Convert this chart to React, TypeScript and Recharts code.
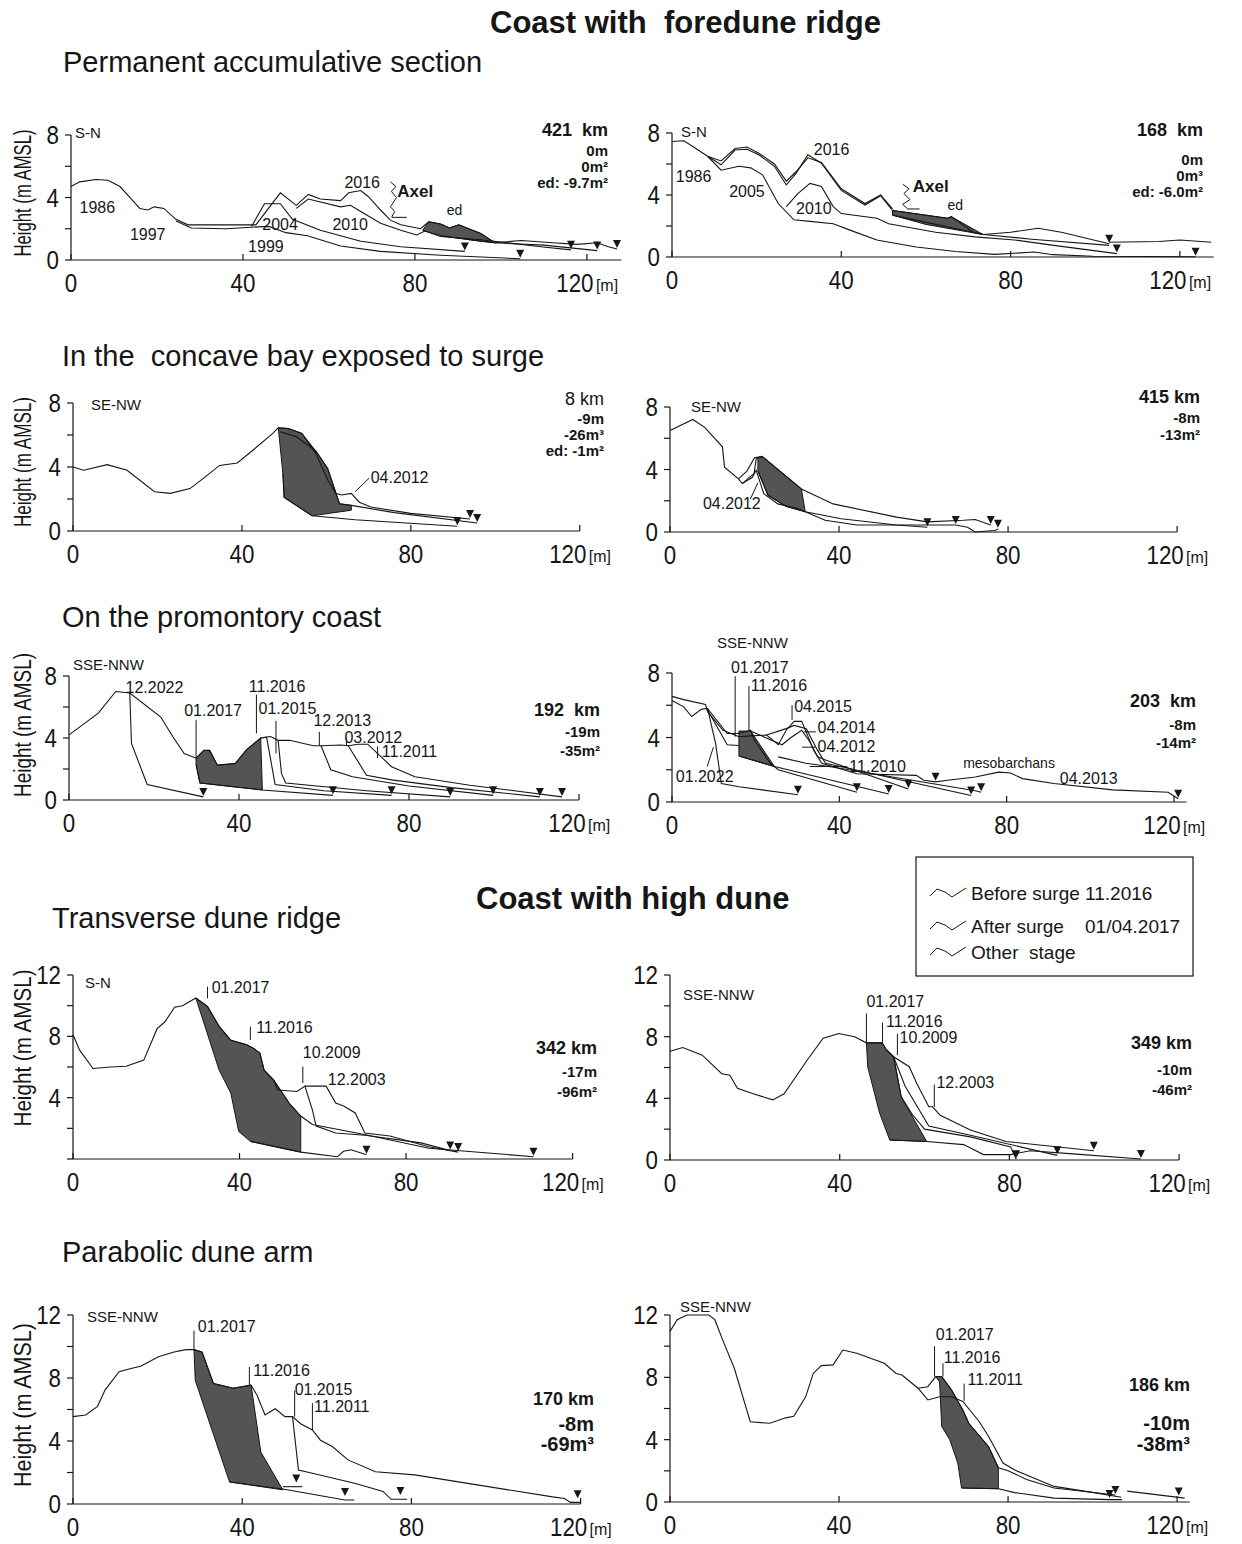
import React from "react";
import { ComposedChart, Scatter, XAxis, YAxis } from "recharts";

type Pt = [number, number];
type Tag = { x: number; y: number; text: string };

// ---------- Coast with foredune ridge: permanent accumulative section ----------
const p1Profiles: Pt[][] = [
  [[0, 4.7], [2, 5.0], [5.8, 5.15], [8.6, 5.1], [11.4, 4.7], [14.2, 3.85], [16, 3.3], [17.9, 3.2], [19.3, 3.4], [21.6, 3.3], [24.4, 2.6], [27.2, 2.25], [35.6, 2.25], [43, 2.25], [48.7, 4.3], [52.4, 3.5], [55.2, 4.2], [58, 3.9], [62.7, 3.8], [64.6, 4.3], [67.4, 4.45], [69.2, 4.05], [72, 3.2], [74.3, 2.55], [76.7, 2.25], [81.3, 2.0], [83.2, 2.45], [86, 2.3], [88, 2.05], [90.2, 2.25], [95.3, 1.7], [98.6, 1.1], [104.7, 1.25], [112, 1.1], [117.7, 1.0], [122.4, 1.1], [125, 0.85], [127, 0.7]],
  [[42, 2.15], [45, 3.6], [48.7, 3.6], [51.5, 2.6], [58, 1.9], [67.4, 1.2], [76.7, 0.85], [91.6, 0.55]],
  [[24.4, 2.5], [28, 2.05], [36, 2.0], [42, 2.1], [46, 2.15], [50, 1.75], [55, 1.55], [62.7, 0.9], [72, 0.55], [86, 0.3], [104.5, 0.08]],
  [[52.4, 3.3], [55.2, 3.9], [62.7, 3.4], [65, 3.5], [67.4, 3.1], [72, 2.35], [76.7, 1.9], [80.4, 1.6], [82.3, 1.85], [86, 1.5], [95.3, 1.3], [109.3, 0.85], [116.3, 0.65]],
  [[86, 1.55], [95.3, 1.2], [98.6, 1.1], [110, 0.95], [122.4, 0.6]],
];
const p1Shade: Pt[] = [[81.8, 1.9], [83.2, 2.45], [86, 2.3], [88, 2.05], [90.2, 2.25], [95.3, 1.7], [98.6, 1.1], [95.3, 1.2], [86, 1.55]];
const p1Ends: Pt[] = [[91.6, 0.55], [104.5, 0.08], [116.3, 0.65], [122.4, 0.6], [127, 0.7]];
const p1Leaders: Pt[][] = [
  [[74.3, 5.0], [75.6, 4.7], [74.5, 4.4], [75.7, 4.0], [74.3, 3.4], [75.3, 3.1], [74.6, 2.75]],
  [[74.6, 2.73], [78.1, 2.73]],
];
const p1Tags: Tag[] = [
  { x: 2, y: 3.0, text: "1986" }, { x: 13.7, y: 1.28, text: "1997" }, { x: 41.2, y: 0.53, text: "1999" },
  { x: 44.5, y: 1.92, text: "2004" }, { x: 60.8, y: 1.92, text: "2010" }, { x: 63.6, y: 4.58, text: "2016" },
  { x: 75.9, y: 4.05, text: "Axel" }, { x: 87.4, y: 2.88, text: "ed" },
];

const p2Profiles: Pt[][] = [
  [[0, 7.45], [2.8, 7.5], [5.1, 7.1], [8.4, 6.5], [11.6, 5.95], [14.9, 6.9], [17.7, 6.95], [20.5, 6.6], [24.2, 5.85], [27, 4.65], [29.3, 5.4], [32.1, 6.6], [35.3, 6.05], [40, 4.3], [45.6, 3.35], [49.3, 3.95], [52.1, 3.0], [65.1, 2.5], [66, 2.6], [71.2, 1.6], [73.5, 1.45], [80, 1.6], [86.5, 1.85], [92, 1.6], [103.3, 0.85]],
  [[8.4, 6.5], [11.6, 6.2], [14.9, 7.0], [17.7, 7.1], [20.5, 6.7], [24.2, 6.0], [27, 4.9], [29.3, 5.5], [32.1, 6.4], [35.3, 6.1], [40, 4.4], [45.6, 3.45], [49.3, 4.0], [52.1, 3.1]],
  [[103.3, 0.95], [115, 1.0], [120, 1.1], [127.4, 0.95]],
  [[52.1, 2.7], [73.5, 1.45], [85, 1.15], [103.3, 0.75]],
  [[27, 3.25], [29.8, 4.1], [32.6, 4.75], [35.3, 4.55], [38.1, 3.25], [40, 2.8], [48.4, 2.5], [51.2, 2.15], [62.3, 1.6], [71.6, 1.3], [80.9, 1.1], [90.2, 0.75], [105.1, 0.22]],
  [[8.4, 6.5], [11.6, 5.6], [15.8, 5.85], [18.6, 5.75], [21.4, 5.3], [25.1, 3.45], [28.8, 2.4], [32.6, 2.3], [38.1, 2.15], [41.9, 1.75], [48.4, 1.1], [57.7, 0.65], [67, 0.35], [76.3, 0.17], [85.6, 0.32], [90, 0.15], [99.5, 0.05], [123.7, 0.02]],
];
const p2Shade: Pt[] = [[52.1, 3.0], [65.1, 2.5], [66, 2.6], [73.5, 1.45], [60, 2.1], [52.1, 2.7]];
const p2Ends: Pt[] = [[103.3, 0.85], [105.1, 0.22], [123.7, 0.02]];
const p2Leaders: Pt[][] = [
  [[54.5, 4.7], [56, 4.4], [54.8, 4.1], [56.2, 3.7], [54.5, 3.4], [55.5, 3.15]],
  [[55.5, 3.1], [58.5, 3.1]],
];
const p2Tags: Tag[] = [
  { x: 0.9, y: 4.85, text: "1986" }, { x: 13.5, y: 3.9, text: "2005" }, { x: 29.3, y: 2.8, text: "2010" },
  { x: 33.5, y: 6.6, text: "2016" }, { x: 56.9, y: 4.2, text: "Axel" }, { x: 65.1, y: 3.0, text: "ed" },
];

// ---------- concave bay exposed to surge ----------
const p3Profiles: Pt[][] = [
  [[0, 4.0], [2.5, 3.8], [8.1, 4.15], [12.8, 3.8], [19.3, 2.45], [23, 2.35], [27.7, 2.65], [31.4, 3.4], [34.7, 4.1], [38.9, 4.25], [42.6, 5.05], [47.3, 6.1], [48.6, 6.45], [51, 6.4], [54.2, 6.1], [57.5, 4.85], [60.3, 3.2], [62.2, 2.35], [63.6, 2.25], [65.9, 2.35], [67.8, 1.8], [70.5, 1.5], [80, 1.1], [94, 0.75]],
  [[49.1, 6.2], [52.8, 5.9], [57.5, 5.0], [60.3, 3.9], [63.1, 1.7], [65.9, 1.6], [76.1, 1.15], [95.7, 0.5]],
  [[49.7, 3.6], [50, 2.1], [56.6, 0.95], [66.8, 0.7], [76.1, 0.55], [91, 0.3]],
];
const p3Shade: Pt[] = [[48.6, 6.45], [51, 6.4], [54.2, 6.1], [57.5, 5.0], [60.3, 3.9], [63.1, 1.7], [65.9, 1.6], [65.9, 1.3], [56.6, 0.95], [50, 2.1], [49.7, 3.6]];
const p3Ends: Pt[] = [[94, 0.75], [95.7, 0.5], [91, 0.3]];
const p3Leaders: Pt[][] = [[[66.8, 2.45], [70.1, 3.3]]];
const p3Tags: Tag[] = [{ x: 70.5, y: 2.97, text: "04.2012" }];

const p4Profiles: Pt[][] = [
  [[0, 6.5], [5.4, 7.2], [8.2, 6.7], [12.4, 5.45], [12.9, 4.15], [16.2, 3.4], [17.1, 3.1], [19.9, 3.75], [20.4, 4.7], [21.3, 4.8], [22, 4.8], [31.1, 2.75], [38.6, 1.8], [53.6, 0.95], [60.9, 0.65], [69.4, 0.75], [72.2, 0.8], [75.9, 0.45]],
  [[16.2, 3.4], [18.2, 3.9], [20, 4.75], [22, 4.85]],
  [[20.8, 3.9], [23.2, 2.35], [27.4, 1.65], [32, 1.3], [40.5, 0.85], [53.6, 0.45], [60.9, 0.3]],
  [[17.1, 3.1], [19.5, 3.5], [20.4, 3.95], [22.2, 2.45], [25.5, 1.8], [30.2, 1.5], [36.7, 0.75], [44.2, 0.45], [55, 0.45], [67.6, 0.45], [70.4, 0.3], [72.2, 0], [76.9, 0.1], [77.7, 0.2]],
];
const p4Shade: Pt[] = [[20.8, 4.75], [22, 4.8], [31.1, 2.75], [32, 1.3], [27.4, 1.65], [23.2, 2.35], [20.8, 3.9]];
const p4Ends: Pt[] = [[75.9, 0.45], [60.9, 0.3], [67.6, 0.45], [77.6, 0.2]];
const p4Leaders: Pt[][] = [[[19, 2.1], [20.8, 3.15]]];
const p4Tags: Tag[] = [{ x: 7.8, y: 1.5, text: "04.2012" }];

// ---------- promontory coast ----------
const p5Profiles: Pt[][] = [
  [[0, 4.2], [3.2, 4.85], [6.9, 5.6], [11, 7.0], [14.3, 6.9], [21.6, 5.35], [24.4, 4.1], [27.1, 3.0], [29.9, 2.7], [31.7, 3.2], [33.1, 3.2], [34.9, 2.25], [39.1, 2.35], [41.8, 3.25], [45.1, 4.0], [47.4, 4.1], [49.2, 3.85], [51.9, 3.85], [57.5, 3.5], [59.3, 3.5], [63.9, 3.55], [65.7, 3.5], [68, 3.6], [70.3, 3.6], [73, 2.9], [75.9, 2.15], [81.4, 1.5], [94.3, 0.95], [103.4, 0.65], [116, 0.2]],
  [[14.3, 6.9], [14.7, 3.65], [18.4, 1.0], [31.6, 0.2]],
  [[29.9, 2.3], [30.8, 1.1], [45.5, 0.65], [62.1, 0.3]],
  [[45.1, 4.0], [46.5, 4.05], [48.5, 1.0], [60, 0.6], [75.9, 0.3]],
  [[49.2, 3.85], [50, 1.7], [51, 1.1], [70, 0.6], [89.7, 0.2]],
  [[59.3, 3.5], [61.6, 1.95], [66.7, 1.5], [80, 0.9], [99.8, 0.3]],
  [[65.7, 3.5], [70, 1.6], [75.9, 1.3], [90, 0.8], [110.8, 0.2]],
];
const p5Shade: Pt[] = [[29.9, 2.7], [31.7, 3.2], [33.1, 3.2], [34.9, 2.25], [39.1, 2.35], [41.8, 3.25], [45.1, 4.0], [45.5, 0.65], [30.8, 1.1], [29.9, 2.3]];
const p5Ends: Pt[] = [[116, 0.2], [31.6, 0.2], [62.1, 0.3], [75.9, 0.3], [89.7, 0.2], [99.8, 0.3], [110.8, 0.2]];
const p5Leaders: Pt[][] = [
  [[29.9, 2.7], [29.9, 5.15]], [[44.1, 4.3], [44.1, 6.8]], [[48.7, 3.0], [48.7, 5.1]],
  [[58.9, 3.5], [58.9, 4.4]], [[65.3, 3.5], [65.3, 4.0]], [[72.6, 3.45], [72.6, 2.7]],
];
const p5Tags: Tag[] = [
  { x: 13.3, y: 6.9, text: "12.2022" }, { x: 27.1, y: 5.4, text: "01.2017" }, { x: 42.3, y: 6.95, text: "11.2016" },
  { x: 44.6, y: 5.55, text: "01.2015" }, { x: 57.5, y: 4.8, text: "12.2013" }, { x: 64.8, y: 3.65, text: "03.2012" },
  { x: 73.6, y: 2.75, text: "11.2011" },
];

const p6Profiles: Pt[][] = [
  [[0, 6.55], [2.8, 6.35], [8, 6.05], [8.5, 5.6], [12.2, 4.45], [16, 4.05], [18.8, 4.1], [22.6, 4.15], [25.4, 3.55], [27.3, 4.45], [29.2, 5.0], [31, 5.0], [33.9, 3.2], [35.8, 2.4], [44.2, 1.75], [58.4, 1.65], [60.2, 1.35], [63, 1.25], [65.9, 1.35], [72.5, 1.55], [78.1, 1.85], [80.9, 1.8], [83.8, 1.45], [91.3, 1.15], [105.4, 0.75], [118.6, 0.6], [121, 0.2]],
  [[0, 6.3], [2.8, 5.9], [4.7, 5.3], [7, 5.75], [8.5, 5.8], [10.4, 3.65], [11.8, 1.15], [16, 0.95], [30.1, 0.45]],
  [[8.5, 5.8], [13.2, 4.25], [16, 4.25], [18.8, 4.45], [19.8, 3.8], [23.5, 2.4], [25.4, 2.0], [44.2, 0.6]],
  [[8.5, 5.7], [13.2, 3.55], [16, 3.5]],
  [[16, 2.85], [24.5, 2.2], [51.8, 0.5]],
  [[18.8, 4.4], [24.5, 3.75], [26.3, 3.55], [28.2, 3.95], [31, 4.45], [32.9, 3.75], [34.8, 2.8], [36.7, 2.6], [56.5, 0.8]],
  [[22.6, 4.15], [27.3, 4.55], [29.2, 4.75], [32.1, 4.55], [34.8, 3.2], [36.7, 2.4], [71.5, 0.4]],
  [[25.4, 2.8], [32, 2.4], [37.6, 2.2], [72.5, 0.7], [73.9, 0.6]],
];
const p6Shade: Pt[] = [[16, 4.4], [18.8, 4.4], [24.5, 2.2], [16, 2.85]];
const p6Ends: Pt[] = [[121, 0.2], [63, 1.25], [30.1, 0.45], [44.2, 0.6], [51.8, 0.5], [56.5, 0.8], [71.5, 0.4], [73.9, 0.6]];
const p6Leaders: Pt[][] = [
  [[15.1, 7.8], [15.1, 4.05]], [[18.4, 7.2], [18.4, 4.4]], [[28.7, 5.1], [28.7, 6.0]],
  [[31.5, 4.35], [34.4, 4.35]], [[31.1, 3.4], [34.4, 3.4]], [[32.9, 2.2], [41.9, 2.2]], [[9.9, 3.4], [8.4, 2.2]],
];
const p6Tags: Tag[] = [
  { x: 14.1, y: 8.0, text: "01.2017" }, { x: 18.8, y: 6.9, text: "11.2016" }, { x: 29.2, y: 5.6, text: "04.2015" },
  { x: 34.8, y: 4.26, text: "04.2014" }, { x: 34.8, y: 3.12, text: "04.2012" }, { x: 42.4, y: 1.87, text: "11.2010" },
  { x: 0.9, y: 1.25, text: "01.2022" }, { x: 69.6, y: 2.08, text: "mesobarchans" }, { x: 92.7, y: 1.14, text: "04.2013" },
];

// ---------- Coast with high dune: transverse dune ridge ----------
const p7Profiles: Pt[][] = [
  [[0, 8.1], [1.6, 7.1], [4.8, 5.9], [9, 6.0], [12.8, 6.05], [17, 6.45], [20.2, 8.5], [22.1, 8.95], [24.4, 9.9], [26.3, 10.0], [29.5, 10.5], [32.3, 9.95], [35.1, 8.65], [37.9, 7.75], [41.7, 7.45], [43.5, 7.2], [44.9, 6.9], [45.9, 5.8], [48.2, 5.15], [49.1, 4.5], [53.8, 4.4], [55.7, 4.75], [57.5, 3.2], [58.4, 2.15], [63.1, 1.7], [70.1, 1.55], [83.6, 1.05], [90.6, 0.55]],
  [[55.7, 4.75], [60.8, 4.75], [63.1, 3.65], [65, 3.45], [67.8, 3.0], [70.1, 1.7], [76.1, 1.5], [85.5, 0.8], [92.5, 0.45]],
  [[45.9, 5.8], [48.2, 5.15], [51.9, 3.65], [54.7, 2.8], [57.5, 2.25], [70, 1.6], [85.5, 0.7], [110.6, 0.15]],
  [[42.6, 1.15], [54.7, 0.45], [63.5, 0.15], [65, 0.5], [66.8, 0.6], [70.5, 0.28]],
];
const p7Shade: Pt[] = [[29.5, 10.5], [32.3, 9.95], [35.1, 8.65], [37.9, 7.75], [41.7, 7.45], [43.5, 7.2], [44.9, 6.9], [45.9, 5.8], [48.2, 5.15], [51.9, 3.65], [54.7, 2.8], [54.7, 0.45], [42.6, 1.15], [39.8, 1.8], [37.9, 4.3], [35.1, 5.8]];
const p7Ends: Pt[] = [[90.6, 0.55], [92.5, 0.45], [110.6, 0.15], [70.5, 0.28]];
const p7Leaders: Pt[][] = [[[32.3, 10.48], [32.3, 11.24]], [[42.6, 7.77], [42.6, 8.63]], [[55.2, 4.95], [55.2, 6.03]]];
const p7Tags: Tag[] = [
  { x: 33.3, y: 10.8, text: "01.2017" }, { x: 44, y: 8.2, text: "11.2016" },
  { x: 55.2, y: 6.57, text: "10.2009" }, { x: 61.2, y: 4.84, text: "12.2003" },
];

const p8Profiles: Pt[][] = [
  [[0, 7.05], [3, 7.3], [7.6, 6.8], [12.2, 5.6], [14.1, 5.5], [15.9, 4.65], [19.6, 4.3], [24.2, 3.9], [26.9, 4.3], [32.4, 6.5], [36.1, 7.9], [39.8, 8.2], [43.5, 8.0], [46.3, 7.6], [50, 7.6], [51, 7.15], [52.7, 6.7], [56.4, 6.05], [58.2, 4.95], [61, 3.45], [61.9, 3.45], [63.7, 2.9], [70.8, 1.95], [79.2, 1.2], [99.9, 0.6]],
  [[51, 7.15], [52.7, 6.7], [54.5, 4.1], [57, 3.0], [60, 2.0], [70.8, 1.5], [80.3, 0.85], [81.6, 0.05]],
  [[52.7, 6.7], [55.4, 4.8], [58.2, 3.5], [61, 2.2], [70.8, 1.6], [91.3, 0.3]],
  [[51.8, 1.3], [60.5, 1.2], [69.2, 1.0], [73.9, 0.35], [80.3, 0.35], [84.9, 0.6], [95, 0.4], [111, 0.06]],
];
const p8Shade: Pt[] = [[46.3, 7.6], [50, 7.6], [51, 7.15], [52.7, 6.7], [54.5, 4.1], [60.5, 1.2], [51.8, 1.3], [49.4, 3.05], [46.6, 6.05]];
const p8Ends: Pt[] = [[99.9, 0.6], [81.6, 0.05], [91.3, 0.3], [111, 0.06]];
const p8Leaders: Pt[][] = [[[46.3, 7.6], [46.3, 9.5]], [[50.1, 7.6], [50.1, 8.9]], [[53.6, 6.8], [53.6, 8.2]], [[62.3, 3.45], [62.3, 4.9]]];
const p8Tags: Tag[] = [
  { x: 46.3, y: 9.95, text: "01.2017" }, { x: 50.9, y: 8.65, text: "11.2016" },
  { x: 54.1, y: 7.57, text: "10.2009" }, { x: 62.8, y: 4.65, text: "12.2003" },
];

// ---------- parabolic dune arm ----------
const p9Profiles: Pt[][] = [
  [[0, 5.55], [3, 5.65], [5.8, 6.2], [7.6, 7.25], [10.9, 8.4], [13.7, 8.6], [16, 8.75], [20.2, 9.35], [23.9, 9.65], [26.7, 9.8], [28.6, 9.8], [30.5, 9.65], [33.2, 7.65], [37.9, 7.35], [42.1, 7.55], [43.5, 6.9], [45.4, 5.65], [47.8, 6.05], [50.1, 5.55], [51.9, 5.55], [53.8, 5.1], [56.6, 4.7], [58.5, 4.05], [61.3, 3.65], [65, 2.8], [71.5, 2.05], [80.8, 1.85], [113.4, 0.45], [116.2, 0.35], [117.6, 0.1], [120, 0.1]],
  [[37, 1.4], [49.6, 0.95], [64.3, 0.25], [66.5, 0.25]],
  [[49.6, 1.1], [54.2, 1.1]],
  [[51.9, 5.55], [53.3, 2.15], [56.6, 1.95], [66.8, 1.3], [73.3, 0.8], [75.2, 0.3], [79, 0.3]],
];
const p9Shade: Pt[] = [[28.6, 9.8], [30.5, 9.65], [33.2, 7.65], [37.9, 7.35], [42.1, 7.55], [44.4, 3.3], [49.6, 0.9], [37, 1.4], [28.9, 7.85]];
const p9Ends: Pt[] = [[52.8, 1.3], [64.3, 0.45], [77.4, 0.5], [119.3, 0.3]];
const p9Leaders: Pt[][] = [[[28.6, 9.8], [28.6, 11.0]], [[41.7, 7.55], [41.7, 8.7]], [[52.4, 5.55], [52.4, 7.2]], [[56.6, 4.7], [56.6, 6.4]]];
const p9Tags: Tag[] = [
  { x: 29.5, y: 10.9, text: "01.2017" }, { x: 42.6, y: 8.1, text: "11.2016" },
  { x: 52.4, y: 6.9, text: "01.2015" }, { x: 57, y: 5.85, text: "11.2011" },
];

const p10Profiles: Pt[][] = [
  [[0, 10.95], [1.7, 11.7], [4, 12.0], [9.2, 12.0], [10.6, 11.7], [12.9, 10.1], [15.2, 8.6], [19, 5.15], [23.6, 5.05], [27.4, 5.4], [29.3, 5.5], [32.1, 6.75], [33.9, 8.25], [35.8, 8.75], [38.6, 8.8], [40.9, 9.75], [44.2, 9.55], [50.7, 8.9], [53.5, 8.25], [54.9, 8.15], [58.7, 7.3], [61, 6.55], [63.8, 6.75], [66.6, 6.75], [69.3, 6.45], [73.2, 5.15], [75.4, 4.2], [78.8, 2.5], [81.6, 2.05], [90.9, 1.0], [100.3, 0.6], [106.8, 0.3]],
  [[58.7, 7.3], [61, 7.4], [62.9, 8.05], [64.3, 8.05], [66.6, 7.2], [69.3, 5.9], [70.7, 5.05], [75.4, 3.55], [77.7, 2.2], [80, 2.0], [84.4, 1.45], [90.9, 0.9], [105.4, 0.45]],
  [[69, 0.9], [77.7, 0.85], [81.6, 0.6], [90.9, 0.25], [104, 0.15], [107, 0.15]],
  [[108.2, 0.7], [121.8, 0.25]],
];
const p10Shade: Pt[] = [[62.9, 8.05], [64.3, 8.05], [66.6, 7.2], [69.3, 5.9], [70.7, 5.05], [75.4, 3.55], [77.7, 2.2], [77.7, 0.85], [69, 0.9], [68.1, 2.5], [66.2, 4.0], [64.3, 4.85], [63.8, 7.7]];
const p10Ends: Pt[] = [[105.4, 0.45], [104, 0.2], [120.4, 0.35]];
const p10Leaders: Pt[][] = [[[62.6, 8.05], [62.6, 10.0]], [[64.6, 8.05], [64.6, 8.9]], [[69.6, 6.5], [69.6, 7.6]]];
const p10Tags: Tag[] = [
  { x: 62.9, y: 10.4, text: "01.2017" }, { x: 64.8, y: 8.9, text: "11.2016" }, { x: 70.4, y: 7.5, text: "11.2011" },
];

// page texts
const mainTitles = [
  { text: "Coast with  foredune ridge", x: 490, y: 33 },
  { text: "Coast with high dune", x: 476, y: 909 },
];
const subTitles = [
  { text: "Permanent accumulative section", x: 63, y: 72 },
  { text: "In the  concave bay exposed to surge", x: 62, y: 366 },
  { text: "On the promontory coast", x: 62, y: 627 },
  { text: "Transverse dune ridge", x: 52, y: 928 },
  { text: "Parabolic dune arm", x: 62, y: 1262 },
];
const yTitles = [
  { cy: 193, len: 127 }, { cy: 462, len: 130 }, { cy: 725, len: 144 }, { cy: 1048, len: 157 }, { cy: 1405, len: 164 },
];
const directions = [
  { text: "S-N", x: 75, y: 138 }, { text: "S-N", x: 681, y: 137 }, { text: "SE-NW", x: 91, y: 410 },
  { text: "SE-NW", x: 691, y: 412 }, { text: "SSE-NNW", x: 73, y: 670 }, { text: "SSE-NNW", x: 717, y: 648 },
  { text: "S-N", x: 85, y: 988 }, { text: "SSE-NNW", x: 683, y: 1000 }, { text: "SSE-NNW", x: 87, y: 1322 },
  { text: "SSE-NNW", x: 680, y: 1312 },
];
const stats = [
  { x: 608, lines: [["421  km", 131, 18], ["0m", 151, 15], ["0m²", 167, 15], ["ed: -9.7m²", 183, 15]] },
  { x: 1203, lines: [["168  km", 131, 18], ["0m", 160, 15], ["0m³", 176, 15], ["ed: -6.0m²", 192, 15]] },
  { x: 604, lines: [["8 km", 400, 18], ["-9m", 419, 15], ["-26m³", 435, 15], ["ed: -1m²", 451, 15]] },
  { x: 1200, lines: [["415 km", 398, 18], ["-8m", 418, 15], ["-13m²", 435, 15]] },
  { x: 600, lines: [["192  km", 711, 18], ["-19m", 732, 15], ["-35m²", 751, 15]] },
  { x: 1196, lines: [["203  km", 702, 18], ["-8m", 725, 15], ["-14m²", 743, 15]] },
  { x: 597, lines: [["342 km", 1049, 18], ["-17m", 1072, 15], ["-96m²", 1092, 15]] },
  { x: 1192, lines: [["349 km", 1044, 18], ["-10m", 1070, 15], ["-46m²", 1090, 15]] },
  { x: 594, lines: [["170 km", 1400, 18], ["-8m", 1426, 20], ["-69m³", 1446, 20]] },
  { x: 1190, lines: [["186 km", 1386, 18], ["-10m", 1425, 20], ["-38m³", 1446, 20]] },
];
const legendItems = ["Before surge 11.2016", "After surge", "Other  stage"];

const INK = "#161616";
const SHADE = "#545454";
const FONT = '"Liberation Sans", Arial, Helvetica, sans-serif';

const PANELS = [
  { x0: 70.6, x120: 586.5, y0: 260, yTop: 135, xMax: 128, yMax: 8, zero: true, profiles: p1Profiles, shade: p1Shade, ends: p1Ends, leaders: p1Leaders, tags: p1Tags },
  { x0: 671.6, x120: 1179.5, y0: 257, yTop: 133, xMax: 128, yMax: 8, zero: true, profiles: p2Profiles, shade: p2Shade, ends: p2Ends, leaders: p2Leaders, tags: p2Tags },
  { x0: 72.6, x120: 579.4, y0: 531, yTop: 403, xMax: 120, yMax: 8, zero: true, profiles: p3Profiles, shade: p3Shade, ends: p3Ends, leaders: p3Leaders, tags: p3Tags },
  { x0: 670.4, x120: 1177.5, y0: 532, yTop: 407, xMax: 120, yMax: 8, zero: true, profiles: p4Profiles, shade: p4Shade, ends: p4Ends, leaders: p4Leaders, tags: p4Tags },
  { x0: 69.4, x120: 579.4, y0: 800, yTop: 676, xMax: 120, yMax: 8, zero: true, profiles: p5Profiles, shade: p5Shade, ends: p5Ends, leaders: p5Leaders, tags: p5Tags },
  { x0: 671.6, x120: 1173.6, y0: 802, yTop: 673, xMax: 123, yMax: 8, zero: true, profiles: p6Profiles, shade: p6Shade, ends: p6Ends, leaders: p6Leaders, tags: p6Tags },
  { x0: 72.6, x120: 572.2, y0: 1159, yTop: 975, xMax: 120, yMax: 12, zero: false, profiles: p7Profiles, shade: p7Shade, ends: p7Ends, leaders: p7Leaders, tags: p7Tags },
  { x0: 670.4, x120: 1179.5, y0: 1160, yTop: 975, xMax: 120, yMax: 12, zero: true, profiles: p8Profiles, shade: p8Shade, ends: p8Ends, leaders: p8Leaders, tags: p8Tags },
  { x0: 72.6, x120: 580.2, y0: 1504, yTop: 1315, xMax: 120, yMax: 12, zero: true, profiles: p9Profiles, shade: p9Shade, ends: p9Ends, leaders: p9Leaders, tags: p9Tags },
  { x0: 670.4, x120: 1177.5, y0: 1502, yTop: 1315, xMax: 123, yMax: 12, zero: true, profiles: p10Profiles, shade: p10Shade, ends: p10Ends, leaders: p10Leaders, tags: p10Tags },
];

const toXY = (pts: Pt[]) => pts.map(([x, y]) => ({ x, y }));
const Empty = () => <g />;

function EndMark(props: any) {
  const { cx, cy } = props;
  if (cx == null || cy == null) return <g />;
  return <path d={`M${cx - 4},${cy - 9}L${cx + 4},${cy - 9}L${cx},${cy - 1}Z`} fill={INK} />;
}

function TagText(props: any) {
  const { cx, cy, payload } = props;
  const t: string = payload?.text ?? "";
  const bold = t === "Axel";
  const small = t === "ed" || t === "mesobarchans";
  return (
    <text x={cx} y={cy} fontSize={bold ? 17 : small ? 14 : 16} fontWeight={bold ? 700 : 400} fill={INK}>
      {t}
    </text>
  );
}

function XTick(props: any) {
  const { x, y, payload } = props;
  const v = payload.value;
  const last = v === 120;
  // "120[m]" is centred on its tick as one group
  const numX = last ? x - 12 : x;
  return (
    <g>
      <line x1={x} x2={x} y1={y} y2={y - 6} stroke={INK} strokeWidth={1.2} />
      <text transform={`translate(${numX},${y + 32}) scale(0.86,1)`} textAnchor="middle" fontSize={26} fill={INK}>
        {v}
      </text>
      {last && (
        <text x={numX + 21} y={y + 31} fontSize={16} fill={INK}>
          [m]
        </text>
      )}
    </g>
  );
}

function makeYTick(zero: boolean) {
  return (props: any) => {
    const { x, y, payload } = props;
    const v = payload.value;
    const show = v % 4 === 0 && (zero || v !== 0);
    return (
      <g>
        <line x1={x - 6} x2={x} y1={y} y2={y} stroke={INK} strokeWidth={1.2} />
        {show && (
          <text transform={`translate(${x - 12},${y + 9}) scale(0.86,1)`} textAnchor="end" fontSize={26} fill={INK}>
            {v}
          </text>
        )}
      </g>
    );
  };
}

function Panel({ cfg }: { cfg: (typeof PANELS)[number] }) {
  const YW = 50, MT = 14, MR = 60, XH = 44;
  const pxX = (cfg.x120 - cfg.x0) / 120;
  const plotW = pxX * cfg.xMax;
  const plotH = cfg.y0 - cfg.yTop;
  const yTicks = cfg.yMax === 8 ? [0, 2, 4, 6, 8] : [0, 2, 4, 6, 8, 10, 12];
  const YTick = makeYTick(cfg.zero);
  return (
    <div style={{ position: "absolute", left: cfg.x0 - YW, top: cfg.yTop - MT }}>
      <ComposedChart width={YW + plotW + MR} height={MT + plotH + XH} margin={{ top: MT, right: MR, bottom: 0, left: 0 }}>
        <XAxis type="number" dataKey="x" domain={[0, cfg.xMax]} ticks={[0, 40, 80, 120]} interval={0}
          tick={(p: any) => <XTick {...p} />} tickLine={false} tickSize={0} tickMargin={0} height={XH}
          axisLine={{ stroke: INK, strokeWidth: 1.2 }} />
        <YAxis type="number" dataKey="y" domain={[0, cfg.yMax]} ticks={yTicks} interval={0}
          tick={(p: any) => <YTick {...p} />} tickLine={false} tickSize={0} tickMargin={0} width={YW}
          axisLine={{ stroke: INK, strokeWidth: 1.2 }} />
        <Scatter data={toXY([...cfg.shade, cfg.shade[0]])} line={{ stroke: INK, strokeWidth: 1, fill: SHADE }}
          shape={Empty} isAnimationActive={false} />
        {cfg.profiles.map((p, i) => (
          <Scatter key={"p" + i} data={toXY(p)} line={{ stroke: INK, strokeWidth: 1.1 }} shape={Empty} isAnimationActive={false} />
        ))}
        {cfg.leaders.map((p, i) => (
          <Scatter key={"l" + i} data={toXY(p)} line={{ stroke: INK, strokeWidth: 1 }} shape={Empty} isAnimationActive={false} />
        ))}
        <Scatter data={toXY(cfg.ends)} shape={EndMark} isAnimationActive={false} />
        <Scatter data={cfg.tags} shape={TagText} isAnimationActive={false} />
      </ComposedChart>
    </div>
  );
}

function Overlay() {
  return (
    <svg width={1242} height={1544} style={{ position: "absolute", left: 0, top: 0, pointerEvents: "none" }} fontFamily={FONT}>
      {mainTitles.map((t, i) => (
        <text key={"m" + i} x={t.x} y={t.y} fontSize={31} fontWeight={700} fill={INK} style={{ whiteSpace: "pre" }}>
          {t.text}
        </text>
      ))}
      {subTitles.map((t, i) => (
        <text key={"s" + i} x={t.x} y={t.y} fontSize={29} fill={INK} style={{ whiteSpace: "pre" }}>
          {t.text}
        </text>
      ))}
      {yTitles.map((t, i) => (
        <text key={"y" + i} transform={`translate(31,${t.cy}) rotate(-90)`} textAnchor="middle" fontSize={23}
          textLength={t.len} lengthAdjust="spacingAndGlyphs" fill={INK}>
          Height (m AMSL)
        </text>
      ))}
      {directions.map((t, i) => (
        <text key={"d" + i} x={t.x} y={t.y} fontSize={15} fill={INK}>
          {t.text}
        </text>
      ))}
      {stats.map((s, i) =>
        s.lines.map(([txt, y, size], j) => (
          <text key={`st${i}-${j}`} x={s.x} y={(y as number) + 5} textAnchor="end" fontSize={size as number}
            fontWeight={i === 2 && j === 0 ? 400 : 700} fill={INK} style={{ whiteSpace: "pre" }}>
            {txt}
          </text>
        ))
      )}
      <rect x={916} y={857} width={277} height={119} fill="none" stroke={INK} strokeWidth={1.2} />
      {legendItems.map((t, i) => {
        const y = [893, 926, 952][i];
        return (
          <g key={"lg" + i}>
            <polyline points={`${930},${y + 3} ${937},${y - 4} ${945},${y - 1} ${952},${y + 4} ${966},${y - 5}`} fill="none" stroke={INK} strokeWidth={1} />
            <text x={971} y={y + 7} fontSize={19} fill={INK} style={{ whiteSpace: "pre" }}>
              {t}
            </text>
          </g>
        );
      })}
      <text x={1085} y={933} fontSize={19} fill={INK}>01/04.2017</text>
    </svg>
  );
}

export default function App() {
  return (
    <div style={{ position: "absolute", left: 0, top: 0, width: 1242, height: 1544, background: "#fff", fontFamily: FONT, overflow: "hidden" }}>
      {PANELS.map((cfg, i) => (
        <Panel key={i} cfg={cfg} />
      ))}
      <Overlay />
    </div>
  );
}
